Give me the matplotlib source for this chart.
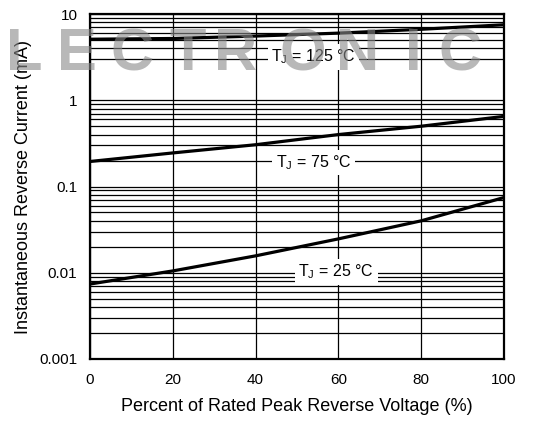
import matplotlib
matplotlib.use('Agg')
import matplotlib.pyplot as plt
from matplotlib.ticker import FixedLocator, NullFormatter
from matplotlib import font_manager
import numpy as np

plt.rcParams['font.family'] = ['Liberation Sans', 'DejaVu Sans']
plt.rcParams['mathtext.fontset'] = 'custom'
plt.rcParams['mathtext.rm'] = 'Liberation Sans'
plt.rcParams['mathtext.it'] = 'Liberation Sans:italic'

# --- DATA ---
pct_voltage = [0, 20, 40, 60, 80, 100]
ir_125 = [5.1, 5.2, 5.55, 6.0, 6.65, 7.5]
ir_75 = [0.195, 0.245, 0.305, 0.40, 0.50, 0.65]
ir_25 = [0.0074, 0.0105, 0.0157, 0.0247, 0.040, 0.0745]

labels = ['T$_\\mathrm{J}$ = 125 °C', 'T$_\\mathrm{J}$ = 75 °C', 'T$_\\mathrm{J}$ = 25 °C']
label_pos = [(54, 3.2), (54, 0.19), (59.5, 0.0102)]

x_ticks = [0, 20, 40, 60, 80, 100]
y_ticks = [0.001, 0.01, 0.1, 1, 10]
y_ticklabels = ['0.001', '0.01', '0.1', '1', '10']
watermark = 'LECTRONIC'

names = {f.name for f in font_manager.fontManager.ttflist}
wm_family = 'Liberation Sans Narrow' if 'Liberation Sans Narrow' in names else 'Liberation Sans'

fig = plt.figure(figsize=(5.36, 4.21), dpi=100)
ax = fig.add_axes([90/536, 1 - 359/421, 414/536, 345/421])
ax.set_yscale('log')
ax.set_xlim(0, 100)
ax.set_ylim(0.001, 10)

# minor grid (top decade has no line at 2)
minors = [m * 10.0**e for e in range(-3, 1) for m in range(2, 10)]
minors = [v for v in minors if not np.isclose(v, 2.0)]
ax.yaxis.set_minor_locator(FixedLocator(minors))
ax.yaxis.set_minor_formatter(NullFormatter())
ax.set_yticks(y_ticks)
ax.set_yticklabels(y_ticklabels)
ax.set_xticks(x_ticks)
ax.tick_params(which='both', length=0, labelsize=11)
ax.tick_params(axis='x', pad=10)
ax.tick_params(axis='y', pad=9)
ax.grid(True, which='both', axis='y', color='black', linewidth=0.9)
ax.grid(True, which='major', axis='x', color='black', linewidth=0.9)
for s in ax.spines.values():
    s.set_linewidth(1.6)

for ys in (ir_125, ir_75, ir_25):
    ax.plot(pct_voltage, ys, color='black', linewidth=2.3, solid_capstyle='butt', zorder=3)

for txt, (lx, ly) in zip(labels, label_pos):
    ax.text(lx, ly, txt, ha='center', va='center', fontsize=11.5, zorder=4,
            bbox=dict(facecolor='white', edgecolor='none', pad=2.5))

ax.set_xlabel('Percent of Rated Peak Reverse Voltage (%)', fontsize=13, labelpad=8)
ax.set_ylabel('Instantaneous Reverse Current (mA)', fontsize=13, labelpad=5)

# watermark (light grey, lines show through)
wm_x = [24, 77, 132, 188, 236, 303, 358, 413, 460]
for ch, px in zip(watermark, wm_x):
    fig.text(px / 536, 1 - 55 / 421, ch, ha='center', va='center', fontsize=43,
             family=wm_family, fontweight='bold', color='#8a8a8a', alpha=0.6, zorder=10)

fig.savefig('out.png', dpi=100)
